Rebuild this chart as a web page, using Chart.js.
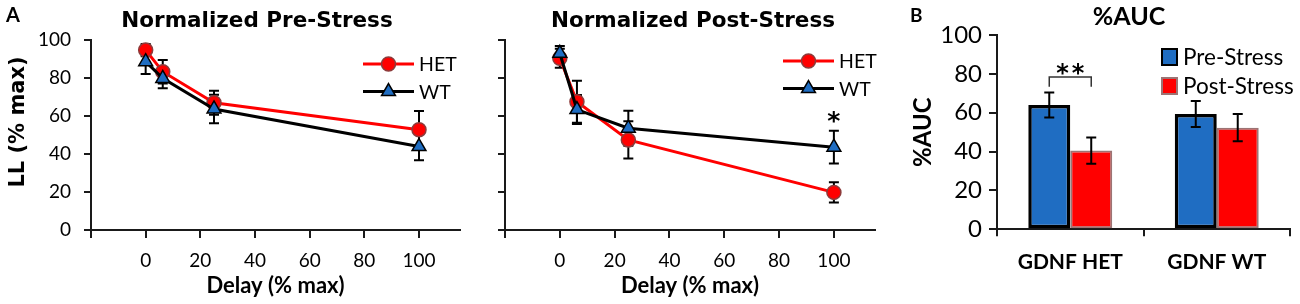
<!DOCTYPE html>
<html>
<head>
<meta charset="utf-8">
<script src="https://cdn.jsdelivr.net/npm/chart.js@4.4.1/dist/chart.umd.min.js"></script>
<style>
  body { margin: 0; background: #fff; width: 1300px; height: 304px; overflow: hidden; position: relative; }
  .panel { position: absolute; top: 0; height: 304px; }
</style>
</head>
<body>
<div class="panel" style="left:0;width:470px"><canvas id="pre"></canvas></div>
<div class="panel" style="left:470px;width:420px"><canvas id="post"></canvas></div>
<div class="panel" style="left:890px;width:410px"><canvas id="auc"></canvas></div>
<script>
// delay as % of max, LL as % of max
const delays = [0, 6.25, 25, 100];

const preHET = [94.7, 83.3, 67.0, 52.8];
const preHETErr = [3.2, 6.2, 6.3, 9.8];
const preWT = [88.6, 79.8, 63.7, 43.9];
const preWTErr = [6.5, 5.2, 7.5, 7.2];

const postHET = [90.4, 67.5, 47.4, 19.8];
const postHETErr = [5.0, 11.0, 9.8, 5.3];
const postWT = [93.0, 63.4, 53.6, 43.6];
const postWTErr = [3.8, 7.6, 9.2, 8.6];
const postSig = [{ x: 100, y: 60.5, text: '*' }];

// %AUC bars
const groups = ['GDNF HET', 'GDNF WT'];
const aucPre = [64.0, 59.3];
const aucPreErr = [6.4, 6.7];
const aucPost = [40.5, 52.3];
const aucPostErr = [6.8, 7.0];
const aucSig = { group: 0, y: 78.4, leg: 5, text: '**' };

const RED = '#FF0000';
const RED_EDGE = '#8C3B3B';
const BLUE = '#1F6DC2';
const AXIS = '#1a1a1a';
const SANS = 'Lato, "Open Sans", sans-serif';
const WIDE = '"DejaVu Sans", Verdana, sans-serif';

Chart.defaults.font.family = SANS;
Chart.defaults.color = '#000';

// error bars from arrays in plugin options
const errorBarPlugin = {
  id: 'errorBars',
  draw(chart, opts) {
    const ctx = chart.ctx;
    const ys = chart.scales.y;
    ctx.save();
    ctx.strokeStyle = '#000';
    ctx.lineWidth = opts.width;
    opts.errors.forEach((errs, di) => {
      const meta = chart.getDatasetMeta(di);
      meta.data.forEach((el, i) => {
        const raw = chart.data.datasets[di].data[i];
        const v = typeof raw === 'object' ? raw.y : raw;
        const top = ys.getPixelForValue(v + errs[i]);
        const bot = ys.getPixelForValue(v - errs[i]);
        const x = el.x;
        ctx.beginPath();
        ctx.moveTo(x, top); ctx.lineTo(x, bot);
        ctx.moveTo(x - opts.cap, top); ctx.lineTo(x + opts.cap, top);
        ctx.moveTo(x - opts.cap, bot); ctx.lineTo(x + opts.cap, bot);
        ctx.stroke();
      });
    });
    ctx.restore();
  },
  beforeDatasetsDraw(chart, args, opts) { if (!opts.front) this.draw(chart, opts); },
  afterDatasetsDraw(chart, args, opts) { if (opts.front) this.draw(chart, opts); }
};

// free text: panel letters, titles, rotated axis title
const textPlugin = {
  id: 'texts',
  afterDraw(chart, args, opts) {
    const ctx = chart.ctx;
    (opts.items || []).forEach(t => {
      ctx.save();
      ctx.font = t.font;
      ctx.fillStyle = '#000';
      ctx.textAlign = t.align || 'center';
      ctx.textBaseline = 'alphabetic';
      ctx.translate(t.x, t.y);
      if (t.rotate) ctx.rotate(t.rotate);
      ctx.fillText(t.text, 0, 0);
      ctx.restore();
    });
    // significance marks placed by the scales
    (opts.marks || []).forEach(m => {
      ctx.save();
      ctx.font = 'bold 25px ' + WIDE;
      ctx.fillStyle = '#000';
      ctx.textAlign = 'center';
      ctx.fillText(m.text, chart.scales.x.getPixelForValue(m.x), chart.scales.y.getPixelForValue(m.y) + 14);
      ctx.restore();
    });
  }
};

// legend with line through the marker
const lineLegendPlugin = {
  id: 'lineLegend',
  afterDraw(chart, args, opts) {
    const ctx = chart.ctx;
    chart.data.datasets.forEach((ds, i) => {
      const y = opts.y + i * opts.gap;
      ctx.save();
      ctx.strokeStyle = ds.borderColor;
      ctx.lineWidth = ds.borderWidth;
      ctx.beginPath();
      ctx.moveTo(opts.x0, y);
      ctx.lineTo(opts.x1, y);
      ctx.stroke();
      ctx.fillStyle = ds.pointBackgroundColor;
      ctx.strokeStyle = ds.pointBorderColor;
      ctx.lineWidth = ds.pointBorderWidth;
      Chart.helpers.drawPoint(ctx, { pointStyle: ds.pointStyle, radius: ds.pointRadius, rotation: 0, borderWidth: ds.pointBorderWidth }, (opts.x0 + opts.x1) / 2, y);
      ctx.fillStyle = '#000';
      ctx.font = '19.5px ' + SANS;
      ctx.textAlign = 'left';
      ctx.textBaseline = 'alphabetic';
      ctx.fillText(ds.label, opts.x1 + 5, y + 7);
      ctx.restore();
    });
  }
};

function lineSet(label, ys, color, style, fill, edge, order) {
  return {
    label: label,
    data: delays.map((d, i) => ({ x: d, y: ys[i] })),
    borderColor: color,
    borderWidth: 3,
    pointStyle: style,
    pointRadius: style === 'triangle' ? 8 : 7,
    pointBackgroundColor: fill,
    pointBorderColor: edge,
    pointBorderWidth: 1.5,
    tension: 0,
    order: order
  };
}

function lineChart(id, het, hetErr, wt, wtErr, o) {
  return new Chart(document.getElementById(id), {
    type: 'line',
    data: {
      datasets: [
        lineSet('HET', het, RED, 'circle', RED, RED_EDGE, 2),
        lineSet('WT', wt, '#000', 'triangle', BLUE, '#000', 1)
      ]
    },
    options: {
      responsive: true,
      maintainAspectRatio: false,
      animation: false,
      layout: { padding: { top: 40, right: o.padRight, left: 0, bottom: 0 } },
      plugins: {
        legend: { display: false },
        tooltip: { enabled: false },
        errorBars: { errors: [hetErr, wtErr], cap: 5, width: 2, front: false },
        texts: { items: o.texts, marks: o.marks || [] },
        lineLegend: o.legend
      },
      scales: {
        x: {
          type: 'linear',
          min: -20,
          max: 115,
          border: { color: AXIS, width: 2 },
          grid: { drawOnChartArea: false, tickLength: 8, color: AXIS, lineWidth: 2 },
          ticks: {
            stepSize: 20,
            includeBounds: false,
            padding: 11,
            font: { size: 19 },
            callback: v => (v < 0 ? '' : v)
          },
          title: { display: true, text: 'Delay (% max)', font: { size: 22, weight: 'bold' }, padding: { top: 0, bottom: 5 } },
          afterFit: s => { s.height = 74; }
        },
        y: {
          min: 0,
          max: 100,
          border: { color: AXIS, width: 2 },
          grid: { drawOnChartArea: false, tickLength: 7, color: AXIS, lineWidth: 2 },
          ticks: {
            stepSize: 20,
            padding: o.yPad,
            font: { size: 19 },
            callback: v => (o.yLabels ? v : '')
          },
          afterFit: s => { s.width = o.yWidth; }
        }
      }
    },
    plugins: [errorBarPlugin, textPlugin, lineLegendPlugin]
  });
}

lineChart('pre', preHET, preHETErr, preWT, preWTErr, {
  padRight: 10,
  yWidth: 91,
  yPad: 13,
  yLabels: true,
  legend: { x0: 363, x1: 414, y: 64, gap: 27.5 },
  texts: [
    { text: 'A', x: 6, y: 22, align: 'left', font: 'bold 20px ' + SANS },
    { text: 'Normalized Pre-Stress', x: 257, y: 27, font: 'bold 21.5px ' + WIDE },
    { text: 'LL (% max)', x: 24, y: 122, rotate: -Math.PI / 2, font: 'bold 21px ' + WIDE }
  ]
});

lineChart('post', postHET, postHETErr, postWT, postWTErr, {
  padRight: 15,
  yWidth: 35,
  yPad: 3,
  yLabels: false,
  legend: { x0: 313, x1: 364, y: 61, gap: 27.5 },
  marks: postSig,
  texts: [
    { text: 'Normalized Post-Stress', x: 223, y: 27, font: 'bold 21.5px ' + WIDE }
  ]
});

// bracket, asterisks, square legend for the bar panel
const barExtrasPlugin = {
  id: 'barExtras',
  afterDraw(chart, args, opts) {
    const ctx = chart.ctx;
    const ys = chart.scales.y;
    const a = chart.getDatasetMeta(0).data[aucSig.group];
    const b = chart.getDatasetMeta(1).data[aucSig.group];
    const top = ys.getPixelForValue(aucSig.y);
    const low = ys.getPixelForValue(aucSig.y - aucSig.leg);
    ctx.save();
    ctx.strokeStyle = '#333';
    ctx.lineWidth = 1.5;
    ctx.beginPath();
    ctx.moveTo(a.x, low); ctx.lineTo(a.x, top); ctx.lineTo(b.x, top); ctx.lineTo(b.x, low);
    ctx.stroke();
    ctx.fillStyle = '#000';
    ctx.font = 'bold 24px ' + WIDE;
    ctx.textAlign = 'center';
    ctx.letterSpacing = '3px';
    ctx.fillText(aucSig.text, (a.x + b.x) / 2 + 1.5, top + 4);
    ctx.letterSpacing = '0px';
    // legend
    chart.data.datasets.forEach((ds, i) => {
      const y = opts.y + i * opts.gap;
      ctx.fillStyle = ds.backgroundColor;
      ctx.fillRect(opts.x, y - 8, 15, 16);
      ctx.strokeStyle = ds.borderColor;
      ctx.lineWidth = 2;
      ctx.strokeRect(opts.x, y - 8, 15, 16);
      ctx.fillStyle = '#000';
      ctx.font = '22.5px ' + SANS;
      ctx.textAlign = 'left';
      ctx.fillText(ds.label, opts.x + 21, y + 8);
    });
    ctx.restore();
  }
};

new Chart(document.getElementById('auc'), {
  type: 'bar',
  data: {
    labels: groups,
    datasets: [
      { label: 'Pre-Stress', data: aucPre, backgroundColor: BLUE, borderColor: '#000', borderWidth: 3.5, borderSkipped: false, categoryPercentage: 0.573, barPercentage: 1 },
      { label: 'Post-Stress', data: aucPost, backgroundColor: RED, borderColor: '#9C7474', borderWidth: 2, borderSkipped: false, categoryPercentage: 0.573, barPercentage: 1 }
    ]
  },
  options: {
    responsive: true,
    maintainAspectRatio: false,
    animation: false,
    layout: { padding: { top: 35, right: 10, left: 0, bottom: 0 } },
    plugins: {
      legend: { display: false },
      tooltip: { enabled: false },
      errorBars: { errors: [aucPreErr, aucPostErr], cap: 5, width: 2, front: true },
      barExtras: { x: 272, y: 57, gap: 29 },
      texts: {
        items: [
          { text: 'B', x: 20, y: 22, align: 'left', font: 'bold 19px ' + SANS },
          { text: '%AUC', x: 239, y: 25, font: 'bold 25px ' + SANS }
        ]
      }
    },
    scales: {
      x: {
        border: { color: AXIS, width: 2 },
        grid: { drawOnChartArea: false, tickLength: 7, color: AXIS, lineWidth: 2, offset: true },
        ticks: { padding: 13, font: { size: 21, weight: 'bold' } },
        afterFit: s => { s.height = 74.7; }
      },
      y: {
        min: 0,
        max: 100,
        border: { color: AXIS, width: 2 },
        grid: { drawOnChartArea: false, tickLength: 8, color: AXIS, lineWidth: 2 },
        ticks: { stepSize: 20, padding: 7, font: { size: 24 } },
        title: { display: true, text: '%AUC', font: { size: 24, weight: 'bold' }, padding: { top: 19, bottom: 0 } },
        afterFit: s => { s.width = 107; }
      }
    }
  },
  plugins: [errorBarPlugin, textPlugin, barExtrasPlugin]
});
</script>
</body>
</html>
